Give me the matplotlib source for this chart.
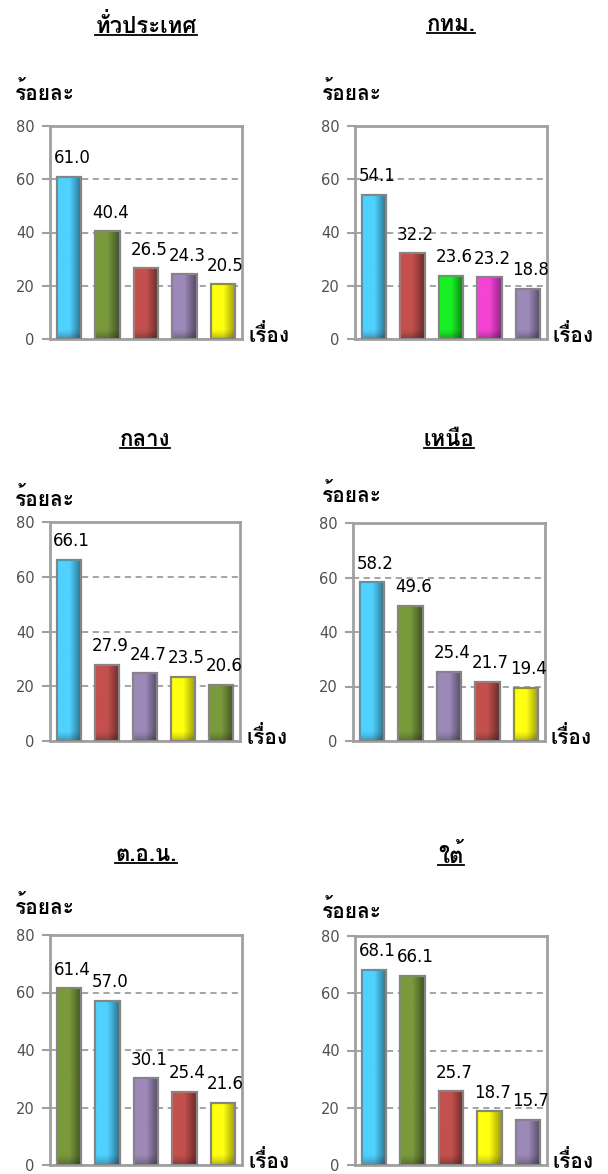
import numpy as np
import matplotlib
matplotlib.use('Agg')
import matplotlib.pyplot as plt
from matplotlib import font_manager
from matplotlib.ft2font import FT2Font
from matplotlib.colors import LinearSegmentedColormap
from matplotlib.lines import Line2D

# look for any installed font that has Thai glyphs
thai_font = None
for f in font_manager.fontManager.ttflist:
    try:
        if 0x0E01 in FT2Font(f.fname).get_charmap():
            thai_font = f.name
            break
    except Exception:
        pass
thai_family = [thai_font, 'DejaVu Sans'] if thai_font else ['DejaVu Sans']

titles = ['ทั่วประเทศ', 'กทม.', 'กลาง', 'เหนือ', 'ต.อ.น.', 'ใต้']

values_all = [61.0, 40.4, 26.5, 24.3, 20.5]
values_bkk = [54.1, 32.2, 23.6, 23.2, 18.8]
values_central = [66.1, 27.9, 24.7, 23.5, 20.6]
values_north = [58.2, 49.6, 25.4, 21.7, 19.4]
values_northeast = [61.4, 57.0, 30.1, 25.4, 21.6]
values_south = [68.1, 66.1, 25.7, 18.7, 15.7]

colors_all = ['cyan', 'olive', 'red', 'purple', 'yellow']
colors_bkk = ['cyan', 'red', 'green', 'magenta', 'purple']
colors_central = ['cyan', 'red', 'purple', 'yellow', 'olive']
colors_north = ['cyan', 'olive', 'purple', 'red', 'yellow']
colors_northeast = ['olive', 'cyan', 'purple', 'red', 'yellow']
colors_south = ['cyan', 'olive', 'red', 'yellow', 'purple']

yticks = [0, 20, 40, 60, 80]

# light / dark shade for each bar colour
shades = {
    'cyan': ('#4fd2ff', '#25708e'),
    'olive': ('#7a9a3c', '#3f5220'),
    'red': ('#c4504d', '#6e2826'),
    'purple': ('#9d89b8', '#544666'),
    'yellow': ('#ffff10', '#9a9a00'),
    'green': ('#18f024', '#07800c'),
    'magenta': ('#f444d4', '#98208a'),
}

panels = [
    (values_all, colors_all),
    (values_bkk, colors_bkk),
    (values_central, colors_central),
    (values_north, colors_north),
    (values_northeast, colors_northeast),
    (values_south, colors_south),
]

W, H = 608, 1174
fig = plt.figure(figsize=(W / 100, H / 100), dpi=100)

# axes boxes in pixels: left, right, top, bottom
boxes = [
    (50, 242, 126, 339), (355, 547, 126, 339),
    (50, 240, 522, 741), (353, 545, 523, 741),
    (50, 242, 935, 1165), (355, 547, 936, 1165),
]
title_y = [25, 25, 440, 440, 855, 855]
unit_y = [92, 93, 498, 495, 907, 910]

grid_col = '#8c8c8c'
title_texts = []

# dark fade at the foot of each bar
foot = np.zeros((32, 1, 4))
foot[:, 0, 3] = np.linspace(0.0, 0.3, 32) ** 1.5 / 0.3 ** 0.5

for i, ((vals, cols), (l, r, t, b)) in enumerate(zip(panels, boxes)):
    ax = fig.add_axes([l / W, 1 - b / H, (r - l) / W, (b - t) / H])
    x = np.arange(len(vals))
    bars = ax.bar(x, vals, width=0.64, facecolor='none', edgecolor='#858585',
                  linewidth=1.6, zorder=4)
    for bar, c in zip(bars, cols):
        light, dark = shades[c]
        cmap = LinearSegmentedColormap.from_list('g', [light, light, dark])
        grad = np.linspace(0, 1, 64).reshape(1, -1)
        x0 = bar.get_x()
        w = bar.get_width()
        im = ax.imshow(grad, cmap=cmap, aspect='auto', zorder=3,
                       extent=[x0, x0 + w, 0, bar.get_height()])
        im.set_clip_path(bar)
        im2 = ax.imshow(foot, aspect='auto', zorder=3.5, origin='upper',
                        extent=[x0, x0 + w, 0, 4])
        im2.set_clip_path(bar)
        ax.annotate(f'{bar.get_height():.1f}', (x0 + w / 2, bar.get_height()),
                    xytext=(2, 7), textcoords='offset points', ha='center', va='bottom',
                    fontsize=12, color='black', zorder=5)
    ax.set_xlim(-0.5, len(vals) - 0.5)
    ax.set_ylim(0, 80)
    ax.set_yticks(yticks)
    ax.set_xticks([])
    ax.yaxis.grid(True, linestyle=(0, (4, 3)), color=grid_col, linewidth=1.1)
    ax.set_axisbelow(True)
    for s in ax.spines.values():
        s.set_color('#a0a0a0')
        s.set_linewidth(2)
    ax.tick_params(axis='y', length=6, width=1.5, color='#a0a0a0', labelcolor='#505050',
                   labelsize=10.5, pad=5)

    cx = (l + r) / 2 / W
    tt = fig.text(cx, 1 - title_y[i] / H, titles[i], ha='center', va='center',
                  fontsize=16, fontweight='bold', family=thai_family)
    title_texts.append(tt)
    ux = 15 if i % 2 == 0 else 322
    fig.text(ux / W, 1 - unit_y[i] / H, 'ร้อยละ', ha='left', va='center',
             fontsize=15, fontweight='bold', family=thai_family)
    fig.text((r + 6) / W, 1 - (b - 4) / H, 'เรื่อง', ha='left', va='center',
             fontsize=15, fontweight='bold', family=thai_family)

# underline the panel titles
fig.canvas.draw()
inv = fig.transFigure.inverted()
rend = fig.canvas.get_renderer()
for tt in title_texts:
    bb = tt.get_window_extent(rend).transformed(inv)
    fig.add_artist(Line2D([bb.x0, bb.x1], [bb.y0 + 0.002, bb.y0 + 0.002],
                          color='black', linewidth=1.3))

fig.savefig('out.png', dpi=100)
